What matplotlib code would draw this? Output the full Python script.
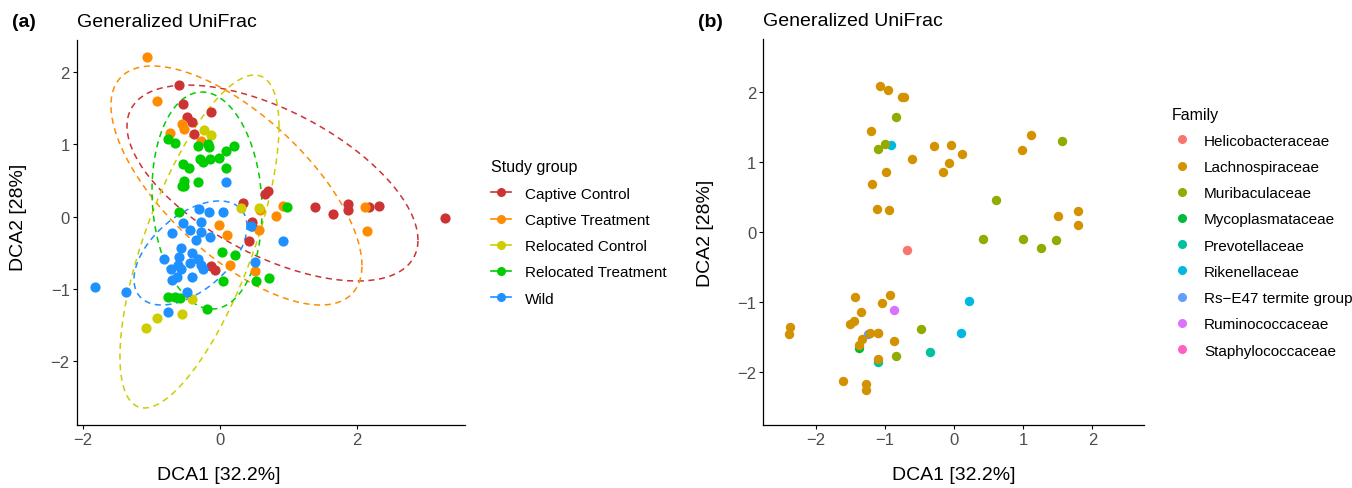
import numpy as np
import matplotlib
matplotlib.use("Agg")
import matplotlib.pyplot as plt
from matplotlib.lines import Line2D

plt.rcParams["font.family"] = ["Liberation Sans", "DejaVu Sans"]

# ---- panel (a): sample scores by study group ----
groups = ["Captive Control", "Captive Treatment", "Relocated Control",
          "Relocated Treatment", "Wild"]
group_colors = ["#CD3333", "#FF8C00", "#CDCD00", "#00CD00", "#1E90FF"]

cc_x = [-0.596, -0.542, -0.484, -0.403, -0.374, -0.131, 0.339, 0.472, 0.465, 0.422,
        0.669, 0.712, -0.121, -0.068, 1.395, 1.657, 1.871, 1.871, 2.180, 2.330, 3.295]
cc_y = [1.819, 1.565, 1.385, 1.310, 1.149, 1.449, 0.190, -0.072, -0.132, -0.333,
        0.319, 0.361, -0.685, -0.736, 0.129, 0.038, 0.181, 0.097, 0.129, 0.153, -0.018]

ct_x = [-1.057, -0.911, -0.727, -0.548, -0.523, -0.266, -0.015, 0.106, 0.596, 0.821,
        0.930, 0.574, 0.153, 0.523, 2.118, 2.147]
ct_y = [2.204, 1.601, 1.163, 1.288, 1.208, 1.046, -0.121, -0.260, 0.097, 0.003,
        0.143, -0.188, -0.667, -0.746, 0.129, -0.204]

rc_x = [-0.233, -0.131, 0.315, 0.581, -0.403, -0.548, -0.920, -1.076]
rc_y = [1.194, 1.125, 0.122, 0.118, -1.139, -1.347, -1.403, -1.542]

rt_x = [-0.751, -0.650, -0.315, -0.170, -0.160, 0.097, 0.203, -0.538, -0.446, -0.286,
        -0.243, -0.135, -0.015, 0.087, -0.523, -0.557, -0.519, -0.315, -0.592, 0.033,
        0.218, 0.048, 0.533, 0.715, -0.751, -0.654, -0.581, -0.185, 0.981]
rt_y = [1.069, 1.024, 0.976, 1.000, 0.968, 0.907, 0.976, 0.732, 0.676, 0.792,
        0.754, 0.801, 0.806, 0.676, 0.500, 0.421, 0.431, 0.476, 0.065, -0.490,
        -0.535, -0.885, -0.885, -0.850, -1.107, -1.115, -1.129, -1.271, 0.129]

wd_x = [0.097, -0.301, -0.160, 0.048, -0.533, -0.702, -0.426, -0.272, -0.276, -0.339,
        -0.145, -0.571, -0.397, -0.814, -0.592, -0.315, -0.717, -0.615, -0.567, -0.426,
        -0.266, -0.243, -0.698, -0.621, -0.411, -0.484, -0.760, -1.827, -1.366, 0.920,
        0.523, 0.461]
wd_y = [0.476, 0.111, 0.060, 0.060, -0.090, -0.226, -0.185, -0.079, -0.213, -0.319,
        -0.282, -0.435, -0.496, -0.583, -0.560, -0.583, -0.726, -0.667, -0.726, -0.643,
        -0.667, -0.726, -0.875, -0.838, -0.838, -1.046, -1.319, -0.972, -1.042, -0.343,
        -0.621, -0.135]

# 95% ellipses: centre, half width, half height, y offset at the right-most point
ell_cx = [0.771, 0.245, -0.295, -0.185, -0.426]
ell_cy = [0.466, 0.432, -0.343, 0.224, -0.502]
ell_w = [2.124, 1.832, 1.161, 0.803, 0.825]
ell_h = [1.356, 1.654, 2.304, 1.502, 0.720]
ell_ry = [-0.789, -1.107, 1.592, -0.138, 0.367]

# ---- panel (b): taxa scores by family ----
families = ["Helicobacteraceae", "Lachnospiraceae", "Muribaculaceae", "Mycoplasmataceae",
            "Prevotellaceae", "Rikenellaceae", "Rs\u2212E47 termite group",
            "Ruminococcaceae", "Staphylococcaceae"]
family_colors = ["#F8766D", "#D39200", "#93AA00", "#00BA38", "#00C19F",
                 "#00B9E3", "#619CFF", "#DB72FB", "#FF61C3"]

helico_x = [-0.678]
helico_y = [-0.249]
lachno_x = [-1.065, -0.949, -0.751, -0.717, -1.200, -0.283, -0.051, -0.606, -0.070, -0.157,
            -0.988, -1.191, -1.113, -0.935, 0.109, 1.109, 0.978, 1.504, 1.794, 1.786,
            -2.370, -2.380, -1.438, -0.930, -1.041, -1.341, -1.442, -1.510, -1.210, -1.104,
            -1.330, -1.380, -0.862, -1.104, -1.606, -1.268, -1.268]
lachno_y = [2.086, 2.033, 1.929, 1.929, 1.451, 1.229, 1.247, 1.051, 0.990, 0.857,
            0.866, 0.690, 0.333, 0.323, 1.119, 1.390, 1.176, 0.237, 0.309, 0.100,
            -1.357, -1.453, -0.929, -0.896, -1.014, -1.139, -1.271, -1.314, -1.443, -1.439,
            -1.524, -1.610, -1.557, -1.814, -2.124, -2.171, -2.253]
muri_x = [-0.833, -0.997, -1.094, 1.562, 0.606, 0.413, 0.997, 1.258, 1.481, -0.481, -0.843]
muri_y = [1.647, 1.257, 1.186, 1.304, 0.461, -0.096, -0.096, -0.224, -0.106, -1.386, -1.771]
myco_x = [-1.370]
myco_y = [-1.653]
prevo_x = [-0.345, -1.104]
prevo_y = [-1.710, -1.849]
riken_x = [-0.910, 0.220, 0.099]
riken_y = [1.247, -0.981, -1.439]
rse47_x = [-1.240]
rse47_y = [-1.450]
rumino_x = [-0.867]
rumino_y = [-1.106]
staph_x = [-1.100]
staph_y = [-1.440]

tick_grey = "#4D4D4D"


def style_axes(ax):
    for side in ["top", "right"]:
        ax.spines[side].set_visible(False)
    for side in ["left", "bottom"]:
        ax.spines[side].set_linewidth(0.9)
    ax.tick_params(length=3, width=0.8, pad=2, labelsize=12, labelcolor=tick_grey)


def ellipse_points(cx, cy, w, h, ry, n=200):
    cov = np.array([[w * w, w * ry], [w * ry, h * h]])
    chol = np.linalg.cholesky(cov)
    t = np.linspace(0, 2 * np.pi, n)
    pts = chol @ np.vstack([np.cos(t), np.sin(t)])
    return pts[0] + cx, pts[1] + cy


fig = plt.figure(figsize=(13.52, 4.89), dpi=100)
ax_a = fig.add_axes([0.0567, 0.1288, 0.2872, 0.7874])
ax_b = fig.add_axes([0.5646, 0.1288, 0.2816, 0.7894])

# panel (a)
xs_a = [cc_x, ct_x, rc_x, rt_x, wd_x]
ys_a = [cc_y, ct_y, rc_y, rt_y, wd_y]
for i, name in enumerate(groups):
    ax_a.scatter(xs_a[i], ys_a[i], s=54, color=group_colors[i], linewidths=0, zorder=3)
for i in range(len(groups)):
    ex, ey = ellipse_points(ell_cx[i], ell_cy[i], ell_w[i], ell_h[i], ell_ry[i])
    ax_a.plot(ex, ey, color=group_colors[i], lw=1.1, linestyle=(0, (4, 3)), zorder=2)

ax_a.set_xlim(-2.088, 3.581)
ax_a.set_ylim(-2.883, 2.446)
ax_a.set_xticks([-2, 0, 2])
ax_a.set_yticks([-2, -1, 0, 1, 2])
style_axes(ax_a)
ax_a.set_xlabel("DCA1 [32.2%]", fontsize=14)
ax_a.set_ylabel("DCA2 [28%]", fontsize=14)
ax_a.xaxis.set_label_coords(0.365, -0.106)
ax_a.yaxis.set_label_coords(-0.128, 0.543)
ax_a.set_title("Generalized UniFrac", loc="left", fontsize=14, pad=10)

handles_a = [Line2D([0], [0], color=c, lw=1.2, marker="o", markersize=6.5,
                    markeredgewidth=0) for c in group_colors]
ax_a.legend(handles_a, groups, title="Study group", loc="center left",
            bbox_to_anchor=(1.067, 0.5), frameon=False, fontsize=11,
            title_fontsize=11.5, handlelength=1.3, handletextpad=0.9,
            labelspacing=0.8, borderpad=0, borderaxespad=0, alignment="left")

# panel (b)
xs_b = [helico_x, lachno_x, muri_x, myco_x, prevo_x, riken_x, rse47_x, rumino_x, staph_x]
ys_b = [helico_y, lachno_y, muri_y, myco_y, prevo_y, riken_y, rse47_y, rumino_y, staph_y]
draw_order = [8, 6, 3, 4, 5, 7, 0, 2, 1]
for i in draw_order:
    ax_b.scatter(xs_b[i], ys_b[i], s=46, color=family_colors[i], linewidths=0, zorder=3)

ax_b.set_xlim(-2.758, 2.748)
ax_b.set_ylim(-2.75, 2.76)
ax_b.set_xticks([-2, -1, 0, 1, 2])
ax_b.set_yticks([-2, -1, 0, 1, 2])
style_axes(ax_b)
ax_b.set_xlabel("DCA1 [32.2%]", fontsize=14)
ax_b.set_ylabel("DCA2 [28%]", fontsize=14)
ax_b.xaxis.set_label_coords(0.5, -0.106)
ax_b.yaxis.set_label_coords(-0.13, 0.5)
ax_b.set_title("Generalized UniFrac", loc="left", fontsize=14, pad=10)

handles_b = [Line2D([0], [0], color=c, lw=0, marker="o", markersize=6.5,
                    markeredgewidth=0) for c in family_colors]
ax_b.legend(handles_b, families, title="Family", loc="center left",
            bbox_to_anchor=(1.0735, 0.5), frameon=False, fontsize=11,
            title_fontsize=11.5, handlelength=1.3, handletextpad=0.8,
            labelspacing=0.8, borderpad=0, borderaxespad=0, alignment="left")

fig.text(0.009, 0.955, "(a)", fontsize=14, fontweight="bold", va="center")
fig.text(0.516, 0.955, "(b)", fontsize=14, fontweight="bold", va="center")

fig.savefig("out.png", dpi=100)
